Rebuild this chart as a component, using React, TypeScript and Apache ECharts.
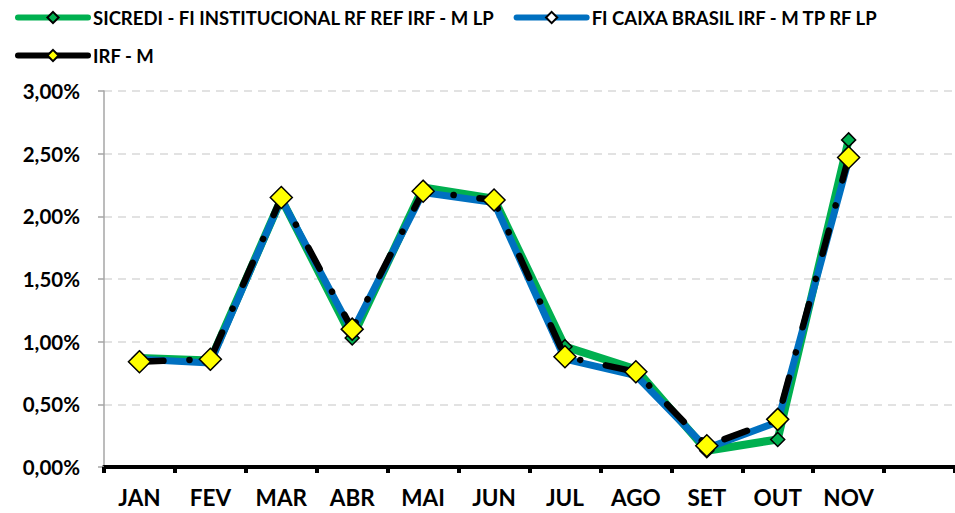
import React, { useEffect, useRef } from "react";
import * as echarts from "echarts";

const months = ["JAN", "FEV", "MAR", "ABR", "MAI", "JUN", "JUL", "AGO", "SET", "OUT", "NOV", ""];
const sicredi = [0.87, 0.85, 2.14, 1.03, 2.23, 2.14, 0.96, 0.78, 0.13, 0.22, 2.61];
const caixa = [0.86, 0.83, 2.14, 1.08, 2.19, 2.11, 0.86, 0.73, 0.15, 0.36, 2.45];
const irfm = [0.84, 0.86, 2.15, 1.10, 2.20, 2.13, 0.88, 0.76, 0.17, 0.38, 2.47];
const yTicks = { min: 0, max: 3, interval: 0.5 };

const FONT = "Lato, 'Liberation Sans', sans-serif";
const N1 = "SICREDI - FI INSTITUCIONAL RF REF IRF - M LP";
const N2 = "FI CAIXA BRASIL IRF - M TP RF LP";
const N3 = "IRF - M";

export default function App() {
  const ref = useRef<HTMLDivElement>(null);
  useEffect(() => {
    document.body.style.margin = "0";
    const chart = echarts.init(ref.current!, null, { renderer: "svg" });
    const legendBase = {
      left: 15,
      padding: 0,
      itemWidth: 70,
      itemHeight: 14,
      lineStyle: { width: 6, cap: "round" },
      textStyle: { fontFamily: FONT, fontWeight: "bold", fontSize: 18.5, color: "#000" },
    };
    chart.setOption({
      animation: false,
      textStyle: { fontFamily: FONT },
      grid: { left: 104, top: 91, width: 852, height: 376, containLabel: false },
      legend: [
        {
          ...legendBase,
          top: 8,
          itemGap: 18,
          data: [{ name: N1 }, { name: N2, itemStyle: { color: "#ffffff" } }],
        },
        {
          ...legendBase,
          top: 46,
          data: [{ name: N3, lineStyle: { type: "solid", width: 6, cap: "round" } }],
        },
      ],
      xAxis: {
        type: "category",
        data: months,
        boundaryGap: true,
        axisLine: { lineStyle: { color: "#000", width: 4 } },
        axisTick: { show: true, length: 6, lineStyle: { color: "#000", width: 4 } },
        axisLabel: { color: "#000", fontWeight: "bold", fontSize: 22.5, fontFamily: FONT, margin: 19 },
      },
      yAxis: {
        type: "value",
        min: yTicks.min,
        max: yTicks.max,
        interval: yTicks.interval,
        axisLine: { show: true, lineStyle: { color: "#a6a6a6", width: 1.5 } },
        axisTick: { show: true, length: 6, lineStyle: { color: "#a6a6a6", width: 1.5 } },
        axisLabel: {
          color: "#000",
          fontWeight: "bold",
          fontSize: 20.5,
          fontFamily: FONT,
          margin: 24,
          formatter: (v: number) => v.toFixed(2).replace(".", ",") + "%",
        },
        splitLine: { show: true, lineStyle: { color: "#d9d9d9", width: 1.5, type: [8, 6] } },
      },
      series: [
        {
          name: N1,
          type: "line",
          data: sicredi,
          z: 2,
          symbol: "diamond",
          symbolSize: 14,
          showAllSymbol: true,
          lineStyle: { color: "#00b050", width: 8 },
          itemStyle: { color: "#00b050", borderColor: "#000", borderWidth: 1.5 },
        },
        {
          name: N2,
          type: "line",
          data: caixa,
          z: 3,
          symbol: "diamond",
          symbolSize: 14,
          showAllSymbol: true,
          lineStyle: { color: "#0070c0", width: 7 },
          itemStyle: { color: "#0070c0", borderColor: "#000", borderWidth: 1.5 },
        },
        {
          name: N3,
          type: "line",
          data: irfm,
          z: 4,
          symbol: "diamond",
          symbolSize: 22,
          showAllSymbol: true,
          lineStyle: { color: "#000", width: 6.5, type: [24, 26, 0.1, 26], cap: "round" },
          itemStyle: { color: "#ffff00", borderColor: "#000", borderWidth: 1.5 },
        },
      ],
    });
    return () => chart.dispose();
  }, []);
  return <div ref={ref} style={{ width: 955, height: 513 }} />;
}
